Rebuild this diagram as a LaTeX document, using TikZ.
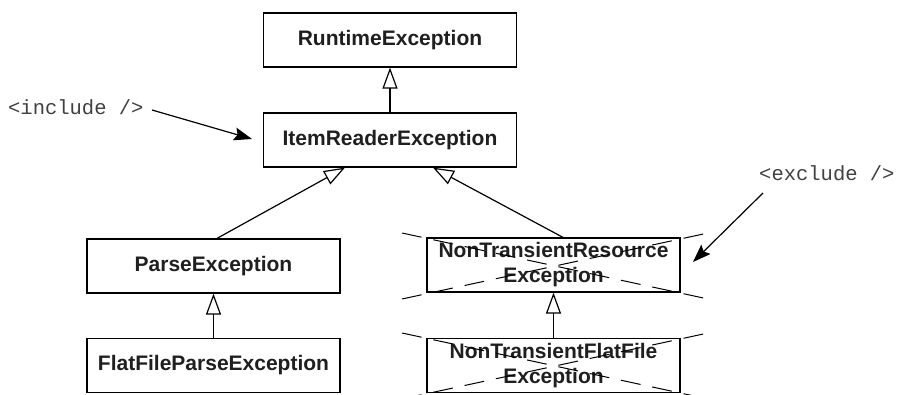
\documentclass[tikz,border=0pt]{standalone}
\usepackage{fontspec}
\setmainfont{Liberation Sans}
\newfontfamily\monofnt{Liberation Mono}
\usetikzlibrary{arrows.meta,calc}
\begin{document}
\begin{tikzpicture}[x=1pt,y=-1pt,
  cls/.style={draw=black, line width=1.2pt, minimum width=253pt, minimum height=54pt,
    inner sep=0pt, align=center, text=black!88,
    font=\fontsize{21}{25}\selectfont\bfseries},
  inh/.style={line width=1.2pt, -{Triangle[open, length=21pt, width=15pt, line width=1.2pt]}},
  tagtxt/.style={font=\monofnt\fontsize{20.5}{24}\selectfont, text=black!75, inner sep=0pt},
  point/.style={line width=1.2pt, -{Stealth[length=18pt, width=13pt, inset=3pt]}},
  cross/.style={line width=1pt, dash pattern=on 20pt off 12pt}
]
\useasboundingbox (0,0) rectangle (899,395);
\clip (0,0) rectangle (899,395);

\node[cls] (rt) at (390,40) {RuntimeException};
\node[cls] (ir) at (390,140) {ItemReaderException};
\node[cls] (pe) at (213.5,266) {ParseException};
\node[cls] (ff) at (213.5,365.5) {FlatFileParseException};
\node[cls] (nr) at (553.5,265) {NonTransientResource\\Exception};
\node[cls] (nf) at (553.5,365.5) {NonTransientFlatFile\\Exception};

% crossed-out dashes
\draw[cross] (402,233) -- (708,299);
\draw[cross] (402,299) -- (708,233);
\draw[cross] (402,333) -- (708,399);
\draw[cross] (402,399) -- (708,333);

\coordinate (irL) at ([xshift=-45pt]ir.south);
\coordinate (irR) at ([xshift=43pt]ir.south);
\coordinate (peT) at ([xshift=3.5pt]pe.north);
\coordinate (nrT) at ([xshift=9.5pt]nr.north);

\draw[inh] (ir.north) -- (rt.south);
\draw[inh] (peT) -- (irL);
\draw[inh] (nrT) -- (irR);
\draw[inh] (ff.north) -- (pe.south);
\draw[inh] (nf.north) -- (nr.south);

\node[tagtxt, anchor=west] (inc) at (8,107) {<include />};
\node[tagtxt, anchor=west] (exc) at (759,173) {<exclude />};
\coordinate (incS) at (152,110);
\coordinate (incE) at (252,139);
\coordinate (excS) at (763,193);
\coordinate (excE) at (693,262);
\draw[point] (incS) -- (incE);
\draw[point] (excS) -- (excE);
\end{tikzpicture}
\end{document}
